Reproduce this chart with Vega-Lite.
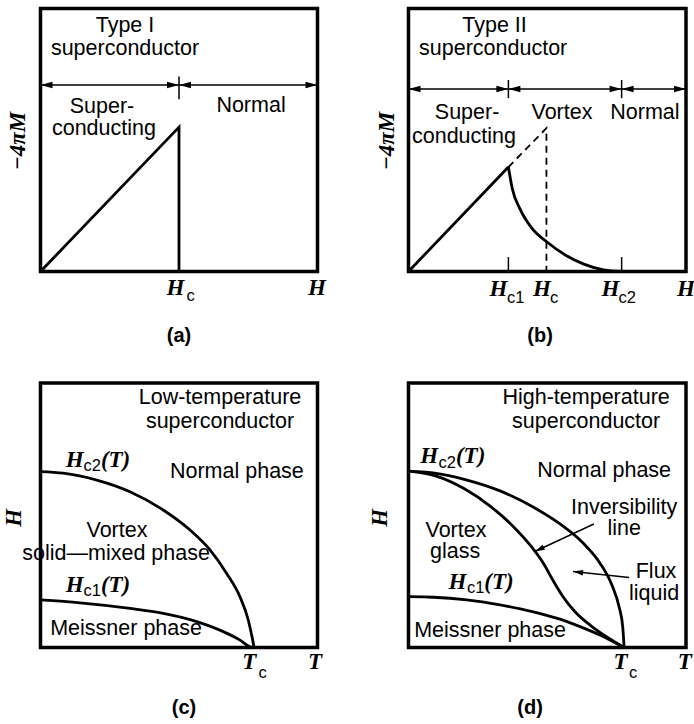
{
  "$schema": "https://vega.github.io/schema/vega-lite/v6.json",
  "padding": 0,
  "background": "white",
  "config": {"view": {"stroke": null}, "concat": {"spacing": 0}},
  "spacing": 0,
  "bounds": "flush",
  "columns": 2,
  "concat": [
        {
          "width": 347, "height": 362,
          "encoding": {
            "x": {"field": "x", "type": "quantitative", "scale": {"domain": [-14.62, 110.65], "nice": false, "zero": false}, "axis": null},
            "y": {"field": "y", "type": "quantitative", "scale": {"domain": [-34.41, 103.23], "nice": false, "zero": false}, "axis": null}
          },
          "layer": [
            {"data": {"values": [{"x": 0, "y": 0, "x2": 100, "y2": 100}]},
             "mark": {"type": "rect", "filled": false, "stroke": "black", "strokeWidth": 3.5},
             "encoding": {"x2": {"field": "x2"}, "y2": {"field": "y2"}}},
            {"data": {"values": [{"id": "m", "x": 0, "y": 0}, {"id": "m", "x": 50, "y": 54.9}, {"id": "m", "x": 50, "y": 0}]},
             "mark": {"type": "line", "color": "black", "strokeWidth": 2.8},
             "encoding": {"detail": {"field": "id"}, "order": {"value": null}}},
            {"data": {"values": [{"id": "arrow", "x": 0, "y": 70.9}, {"id": "arrow", "x": 100, "y": 70.9}, {"id": "tick", "x": 50, "y": 74.1}, {"id": "tick", "x": 50, "y": 65.5}]},
             "mark": {"type": "line", "color": "black", "strokeWidth": 1.5},
             "encoding": {"detail": {"field": "id"}, "order": {"value": null}}},
            {"data": {"values": [{"x": 50, "y": 70.9}, {"x": 100, "y": 70.9}]},
             "mark": {"type": "point", "shape": "M0,0L-2,-0.55L-2,0.55Z", "filled": true, "color": "black", "opacity": 1, "size": 144, "strokeWidth": 0}},
            {"data": {"values": [{"x": 0, "y": 70.9}, {"x": 50, "y": 70.9}]},
             "mark": {"type": "point", "shape": "M0,0L2,-0.55L2,0.55Z", "filled": true, "color": "black", "opacity": 1, "size": 144, "strokeWidth": 0}},
            {"data": {"values": [
              {"x": 30.5, "y": 91.2, "t": "Type I"},
              {"x": 30.5, "y": 82.3, "t": "superconductor"},
              {"x": 22.2, "y": 60.3, "t": "Super-"},
              {"x": 22.9, "y": 51.9, "t": "conducting"},
              {"x": 76.0, "y": 60.6, "t": "Normal"}]},
             "mark": {"type": "text", "font": "Liberation Sans", "fontSize": 21.5, "align": "center", "baseline": "alphabetic", "color": "black"},
             "encoding": {"text": {"field": "t"}}},
            {"data": {"values": [{"x": 48.7, "y": -8.9, "t": "H"}, {"x": 99.8, "y": -8.9, "t": "H"}]},
             "mark": {"type": "text", "font": "Liberation Serif", "fontStyle": "italic", "fontWeight": "bold", "fontSize": 23, "align": "center", "baseline": "alphabetic", "color": "black"},
             "encoding": {"text": {"field": "t"}}},
            {"data": {"values": [{"x": 52.7, "y": -11.4, "t": "c"}]},
             "mark": {"type": "text", "font": "Liberation Sans", "fontSize": 16.5, "align": "left", "baseline": "alphabetic", "color": "black"},
             "encoding": {"text": {"field": "t"}}},
            {"data": {"values": [{"x": 50, "y": -26.8, "t": "(a)"}]},
             "mark": {"type": "text", "font": "Liberation Sans", "fontWeight": "bold", "fontSize": 20, "align": "center", "baseline": "alphabetic", "color": "black"},
             "encoding": {"text": {"field": "t"}}},
            {"data": {"values": [{"x": -8.1, "y": 49.6, "t": "−4πM"}]},
             "mark": {"type": "text", "font": "Liberation Serif", "fontStyle": "italic", "fontWeight": "bold", "fontSize": 23, "align": "center", "baseline": "middle", "angle": 270, "color": "black"},
             "encoding": {"text": {"field": "t"}}}
          ]
        },
        {
          "width": 347, "height": 362,
          "encoding": {
            "x": {"field": "x", "type": "quantitative", "scale": {"domain": [-22.16, 102.88], "nice": false, "zero": false}, "axis": null},
            "y": {"field": "y", "type": "quantitative", "scale": {"domain": [-34.41, 103.23], "nice": false, "zero": false}, "axis": null}
          },
          "layer": [
            {"data": {"values": [{"x": 0, "y": 0, "x2": 100, "y2": 100}]},
             "mark": {"type": "rect", "filled": false, "stroke": "black", "strokeWidth": 3.5},
             "encoding": {"x2": {"field": "x2"}, "y2": {"field": "y2"}}},
            {"data": {"values": [{"id": "m", "x": 0, "y": 0}, {"id": "m", "x": 36, "y": 39.7}]},
             "mark": {"type": "line", "color": "black", "strokeWidth": 2.8},
             "encoding": {"detail": {"field": "id"}, "order": {"value": null}}},
            {"data": {"values": [
              {"x": 36, "y": 39.7}, {"x": 37.4, "y": 31.5}, {"x": 40.3, "y": 23.5}, {"x": 44.5, "y": 16.4},
              {"x": 49.8, "y": 11.3}, {"x": 56.5, "y": 6.3}, {"x": 63.2, "y": 2.8}, {"x": 70.3, "y": 0.6}, {"x": 76.8, "y": 0}]},
             "mark": {"type": "line", "color": "black", "strokeWidth": 2.8, "interpolate": "monotone"}},
            {"data": {"values": [{"id": "d", "x": 36, "y": 39.7}, {"id": "d", "x": 49.7, "y": 54.5}, {"id": "d", "x": 49.7, "y": 0}]},
             "mark": {"type": "line", "color": "black", "strokeWidth": 1.8, "strokeDash": [7, 5]},
             "encoding": {"detail": {"field": "id"}, "order": {"value": null}}},
            {"data": {"values": [
              {"id": "arrow", "x": 0, "y": 69.4}, {"id": "arrow", "x": 100, "y": 69.4},
              {"id": "t1", "x": 36, "y": 72.8}, {"id": "t1", "x": 36, "y": 65.9},
              {"id": "t2", "x": 76.8, "y": 72.8}, {"id": "t2", "x": 76.8, "y": 65.9},
              {"id": "b1", "x": 36, "y": 0}, {"id": "b1", "x": 36, "y": 5.5},
              {"id": "b2", "x": 76.8, "y": 0}, {"id": "b2", "x": 76.8, "y": 5.5}]},
             "mark": {"type": "line", "color": "black", "strokeWidth": 1.5},
             "encoding": {"detail": {"field": "id"}, "order": {"value": null}}},
            {"data": {"values": [{"x": 36, "y": 69.4}, {"x": 76.8, "y": 69.4}, {"x": 100, "y": 69.4}]},
             "mark": {"type": "point", "shape": "M0,0L-2,-0.55L-2,0.55Z", "filled": true, "color": "black", "opacity": 1, "size": 144, "strokeWidth": 0}},
            {"data": {"values": [{"x": 0, "y": 69.4}, {"x": 36, "y": 69.4}, {"x": 76.8, "y": 69.4}]},
             "mark": {"type": "point", "shape": "M0,0L2,-0.55L2,0.55Z", "filled": true, "color": "black", "opacity": 1, "size": 144, "strokeWidth": 0}},
            {"data": {"values": [
              {"x": 31.0, "y": 91.2, "t": "Type II"},
              {"x": 30.5, "y": 82.3, "t": "superconductor"},
              {"x": 21.1, "y": 58.0, "t": "Super-"},
              {"x": 20.0, "y": 48.9, "t": "conducting"},
              {"x": 55.3, "y": 58.0, "t": "Vortex"},
              {"x": 85.2, "y": 58.0, "t": "Normal"}]},
             "mark": {"type": "text", "font": "Liberation Sans", "fontSize": 21.5, "align": "center", "baseline": "alphabetic", "color": "black"},
             "encoding": {"text": {"field": "t"}}},
            {"data": {"values": [{"x": 32.4, "y": -9.3, "t": "H"}, {"x": 48.1, "y": -9.3, "t": "H"}, {"x": 72.8, "y": -9.3, "t": "H"}, {"x": 100, "y": -9.3, "t": "H"}]},
             "mark": {"type": "text", "font": "Liberation Serif", "fontStyle": "italic", "fontWeight": "bold", "fontSize": 23, "align": "center", "baseline": "alphabetic", "color": "black"},
             "encoding": {"text": {"field": "t"}}},
            {"data": {"values": [{"x": 35.5, "y": -11.8, "t": "c1"}, {"x": 51.0, "y": -11.8, "t": "c"}, {"x": 75.7, "y": -11.8, "t": "c2"}]},
             "mark": {"type": "text", "font": "Liberation Sans", "fontSize": 16.5, "align": "left", "baseline": "alphabetic", "color": "black"},
             "encoding": {"text": {"field": "t"}}},
            {"data": {"values": [{"x": 47.4, "y": -26.8, "t": "(b)"}]},
             "mark": {"type": "text", "font": "Liberation Sans", "fontWeight": "bold", "fontSize": 20, "align": "center", "baseline": "alphabetic", "color": "black"},
             "encoding": {"text": {"field": "t"}}},
            {"data": {"values": [{"x": -7.6, "y": 49.6, "t": "−4πM"}]},
             "mark": {"type": "text", "font": "Liberation Serif", "fontStyle": "italic", "fontWeight": "bold", "fontSize": 23, "align": "center", "baseline": "middle", "angle": 270, "color": "black"},
             "encoding": {"text": {"field": "t"}}}
          ]
        },
        {
          "width": 347, "height": 362,
          "encoding": {
            "x": {"field": "x", "type": "quantitative", "scale": {"domain": [-14.62, 110.65], "nice": false, "zero": false}, "axis": null},
            "y": {"field": "y", "type": "quantitative", "scale": {"domain": [-28.92, 107.94], "nice": false, "zero": false}, "axis": null}
          },
          "layer": [
            {"data": {"values": [{"x": 0, "y": 0, "x2": 100, "y2": 100}]},
             "mark": {"type": "rect", "filled": false, "stroke": "black", "strokeWidth": 3.5},
             "encoding": {"x2": {"field": "x2"}, "y2": {"field": "y2"}}},
            {"data": {"values": [
              {"id": "Hc2", "x": 0, "y": 66.5}, {"id": "Hc2", "x": 8.2, "y": 65.9}, {"id": "Hc2", "x": 20.3, "y": 63.3},
              {"id": "Hc2", "x": 32.3, "y": 58.9}, {"id": "Hc2", "x": 44.3, "y": 52.0}, {"id": "Hc2", "x": 54.0, "y": 44.4},
              {"id": "Hc2", "x": 61.2, "y": 36.9}, {"id": "Hc2", "x": 67.2, "y": 28.0}, {"id": "Hc2", "x": 72.0, "y": 19.2},
              {"id": "Hc2", "x": 75.0, "y": 10.4}, {"id": "Hc2", "x": 76.6, "y": 2.8}, {"id": "Hc2", "x": 77.1, "y": 0},
              {"id": "Hc1", "x": 0, "y": 18.0}, {"id": "Hc1", "x": 14.3, "y": 16.9}, {"id": "Hc1", "x": 32.3, "y": 14.8},
              {"id": "Hc1", "x": 44.3, "y": 12.9}, {"id": "Hc1", "x": 56.4, "y": 9.8}, {"id": "Hc1", "x": 66.0, "y": 6.0},
              {"id": "Hc1", "x": 72.0, "y": 2.8}, {"id": "Hc1", "x": 75.6, "y": 0.3}, {"id": "Hc1", "x": 77.1, "y": 0}]},
             "mark": {"type": "line", "color": "black", "strokeWidth": 2.8, "interpolate": "monotone"},
             "encoding": {"detail": {"field": "id"}, "order": {"value": null}}},
            {"data": {"values": [
              {"x": 64.8, "y": 92.1, "t": "Low-temperature"},
              {"x": 64.8, "y": 83.0, "t": "superconductor"},
              {"x": 70.9, "y": 64.1, "t": "Normal phase"},
              {"x": 27.6, "y": 41.8, "t": "Vortex"},
              {"x": 27.3, "y": 33.1, "t": "solid—mixed phase"},
              {"x": 30.9, "y": 4.7, "t": "Meissner phase"}]},
             "mark": {"type": "text", "font": "Liberation Sans", "fontSize": 21.5, "align": "center", "baseline": "alphabetic", "color": "black"},
             "encoding": {"text": {"field": "t"}}},
            {"data": {"values": [{"x": 12.3, "y": 68.4, "t": "H"}, {"x": 12.3, "y": 21.1, "t": "H"}, {"x": 75.4, "y": -8.1, "t": "T"}, {"x": 99.1, "y": -8.1, "t": "T"}]},
             "mark": {"type": "text", "font": "Liberation Serif", "fontStyle": "italic", "fontWeight": "bold", "fontSize": 23, "align": "center", "baseline": "alphabetic", "color": "black"},
             "encoding": {"text": {"field": "t"}}},
            {"data": {"values": [{"x": 21.8, "y": 68.4, "t": "(T)"}, {"x": 21.8, "y": 21.1, "t": "(T)"}]},
             "mark": {"type": "text", "font": "Liberation Serif", "fontStyle": "italic", "fontWeight": "bold", "fontSize": 23, "align": "left", "baseline": "alphabetic", "color": "black"},
             "encoding": {"text": {"field": "t"}}},
            {"data": {"values": [{"x": 15.5, "y": 66.8, "t": "c2"}, {"x": 15.5, "y": 19.6, "t": "c1"}, {"x": 78.7, "y": -11.4, "t": "c"}]},
             "mark": {"type": "text", "font": "Liberation Sans", "fontSize": 16.5, "align": "left", "baseline": "alphabetic", "color": "black"},
             "encoding": {"text": {"field": "t"}}},
            {"data": {"values": [{"x": 51.8, "y": -25.1, "t": "(c)"}]},
             "mark": {"type": "text", "font": "Liberation Sans", "fontWeight": "bold", "fontSize": 20, "align": "center", "baseline": "alphabetic", "color": "black"},
             "encoding": {"text": {"field": "t"}}},
            {"data": {"values": [{"x": -9.6, "y": 49.0, "t": "H"}]},
             "mark": {"type": "text", "font": "Liberation Serif", "fontStyle": "italic", "fontWeight": "bold", "fontSize": 23, "align": "center", "baseline": "middle", "angle": 270, "color": "black"},
             "encoding": {"text": {"field": "t"}}}
          ]
        },
        {
          "width": 347, "height": 362,
          "encoding": {
            "x": {"field": "x", "type": "quantitative", "scale": {"domain": [-22.16, 102.88], "nice": false, "zero": false}, "axis": null},
            "y": {"field": "y", "type": "quantitative", "scale": {"domain": [-28.92, 107.94], "nice": false, "zero": false}, "axis": null}
          },
          "layer": [
            {"data": {"values": [{"x": 0, "y": 0, "x2": 100, "y2": 100}]},
             "mark": {"type": "rect", "filled": false, "stroke": "black", "strokeWidth": 3.5},
             "encoding": {"x2": {"field": "x2"}, "y2": {"field": "y2"}}},
            {"data": {"values": [
              {"id": "Hc2", "x": 0, "y": 66.7}, {"id": "Hc2", "x": 8.8, "y": 66.0}, {"id": "Hc2", "x": 21.1, "y": 63.3},
              {"id": "Hc2", "x": 33.0, "y": 59.2}, {"id": "Hc2", "x": 44.9, "y": 53.1}, {"id": "Hc2", "x": 54.6, "y": 46.7},
              {"id": "Hc2", "x": 62.9, "y": 39.5}, {"id": "Hc2", "x": 69.0, "y": 31.9}, {"id": "Hc2", "x": 73.3, "y": 23.6},
              {"id": "Hc2", "x": 75.9, "y": 15.3}, {"id": "Hc2", "x": 77.2, "y": 7.8}, {"id": "Hc2", "x": 77.7, "y": 0},
              {"id": "irr", "x": 0, "y": 66.7}, {"id": "irr", "x": 10, "y": 64.8}, {"id": "irr", "x": 20, "y": 60.1},
              {"id": "irr", "x": 30, "y": 53.0}, {"id": "irr", "x": 38, "y": 45.5}, {"id": "irr", "x": 44, "y": 38.5},
              {"id": "irr", "x": 48.5, "y": 32.0}, {"id": "irr", "x": 52, "y": 25.5}, {"id": "irr", "x": 55.5, "y": 19.5},
              {"id": "irr", "x": 60, "y": 13.5}, {"id": "irr", "x": 66, "y": 8.0}, {"id": "irr", "x": 72, "y": 3.6},
              {"id": "irr", "x": 77.7, "y": 0},
              {"id": "Hc1", "x": 0, "y": 19.2}, {"id": "Hc1", "x": 8.9, "y": 19.0}, {"id": "Hc1", "x": 21.0, "y": 18.0},
              {"id": "Hc1", "x": 33.0, "y": 16.1}, {"id": "Hc1", "x": 45.0, "y": 13.5}, {"id": "Hc1", "x": 54.6, "y": 10.7},
              {"id": "Hc1", "x": 61.8, "y": 7.9}, {"id": "Hc1", "x": 69.0, "y": 4.7}, {"id": "Hc1", "x": 73.8, "y": 2.2},
              {"id": "Hc1", "x": 77.7, "y": 0}]},
             "mark": {"type": "line", "color": "black", "strokeWidth": 2.8, "interpolate": "monotone"},
             "encoding": {"detail": {"field": "id"}, "order": {"value": null}}},
            {"data": {"values": [
              {"id": "inv", "x": 66.8, "y": 46.7}, {"id": "inv", "x": 45.5, "y": 36.3},
              {"id": "flux", "x": 79.5, "y": 26.5}, {"id": "flux", "x": 59.3, "y": 28.7}]},
             "mark": {"type": "line", "color": "black", "strokeWidth": 1.5},
             "encoding": {"detail": {"field": "id"}, "order": {"value": null}}},
            {"data": {"values": [{"x": 45.5, "y": 36.3}]},
             "mark": {"type": "point", "shape": "M0,0L-2,-0.55L-2,0.55Z", "filled": true, "color": "black", "opacity": 1, "size": 100, "strokeWidth": 0, "angle": 155.0}},
            {"data": {"values": [{"x": 59.3, "y": 28.7}]},
             "mark": {"type": "point", "shape": "M0,0L-2,-0.55L-2,0.55Z", "filled": true, "color": "black", "opacity": 1, "size": 100, "strokeWidth": 0, "angle": 186.1}},
            {"data": {"values": [
              {"x": 64.0, "y": 92.1, "t": "High-temperature"},
              {"x": 64.0, "y": 83.0, "t": "superconductor"},
              {"x": 70.5, "y": 64.5, "t": "Normal phase"},
              {"x": 77.7, "y": 50.5, "t": "Inversibility"},
              {"x": 77.7, "y": 42.5, "t": "line"},
              {"x": 17.1, "y": 41.8, "t": "Vortex"},
              {"x": 16.8, "y": 33.8, "t": "glass"},
              {"x": 89.2, "y": 26.3, "t": "Flux"},
              {"x": 88.5, "y": 18.0, "t": "liquid"},
              {"x": 29.4, "y": 4.0, "t": "Meissner phase"}]},
             "mark": {"type": "text", "font": "Liberation Sans", "fontSize": 21.5, "align": "center", "baseline": "alphabetic", "color": "black"},
             "encoding": {"text": {"field": "t"}}},
            {"data": {"values": [{"x": 7.5, "y": 69.6, "t": "H"}, {"x": 17.6, "y": 22.1, "t": "H"}, {"x": 76.4, "y": -8.1, "t": "T"}, {"x": 99.6, "y": -8.1, "t": "T"}]},
             "mark": {"type": "text", "font": "Liberation Serif", "fontStyle": "italic", "fontWeight": "bold", "fontSize": 23, "align": "center", "baseline": "alphabetic", "color": "black"},
             "encoding": {"text": {"field": "t"}}},
            {"data": {"values": [{"x": 17.1, "y": 69.6, "t": "(T)"}, {"x": 27.3, "y": 22.1, "t": "(T)"}]},
             "mark": {"type": "text", "font": "Liberation Serif", "fontStyle": "italic", "fontWeight": "bold", "fontSize": 23, "align": "left", "baseline": "alphabetic", "color": "black"},
             "encoding": {"text": {"field": "t"}}},
            {"data": {"values": [{"x": 10.8, "y": 68.0, "t": "c2"}, {"x": 21.1, "y": 20.6, "t": "c1"}, {"x": 79.5, "y": -11.4, "t": "c"}]},
             "mark": {"type": "text", "font": "Liberation Sans", "fontSize": 16.5, "align": "left", "baseline": "alphabetic", "color": "black"},
             "encoding": {"text": {"field": "t"}}},
            {"data": {"values": [{"x": 43.8, "y": -25.1, "t": "(d)"}]},
             "mark": {"type": "text", "font": "Liberation Sans", "fontWeight": "bold", "fontSize": 20, "align": "center", "baseline": "alphabetic", "color": "black"},
             "encoding": {"text": {"field": "t"}}},
            {"data": {"values": [{"x": -10.3, "y": 49.0, "t": "H"}]},
             "mark": {"type": "text", "font": "Liberation Serif", "fontStyle": "italic", "fontWeight": "bold", "fontSize": 23, "align": "center", "baseline": "middle", "angle": 270, "color": "black"},
             "encoding": {"text": {"field": "t"}}}
          ]
        }
  ]
}
